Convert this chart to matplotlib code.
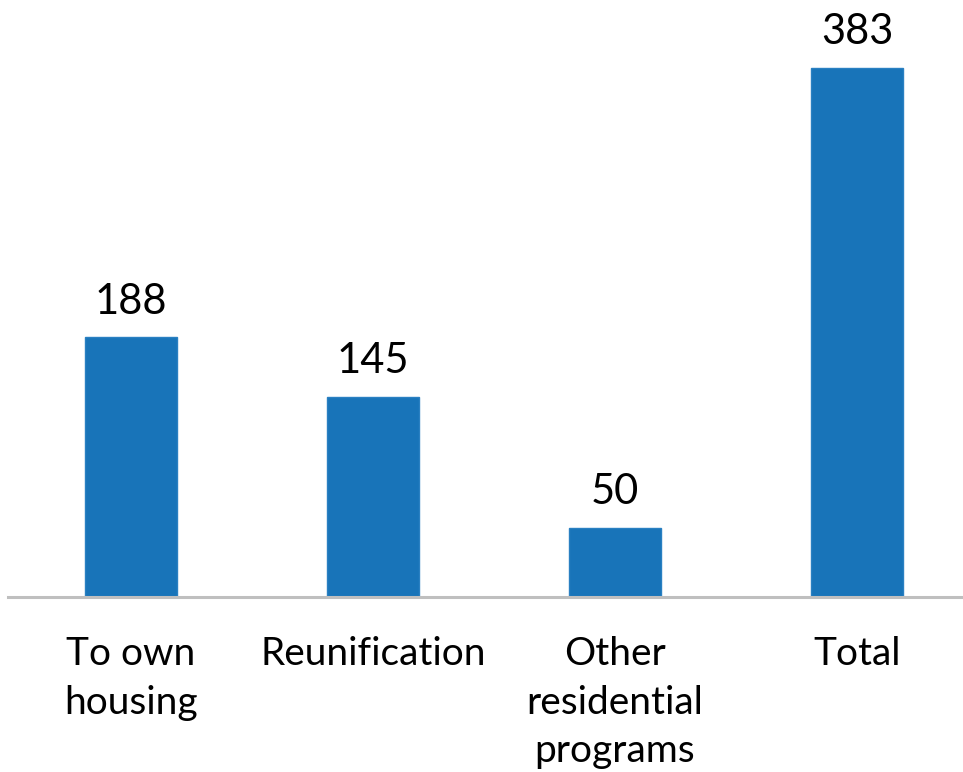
import numpy as np
import matplotlib.pyplot as plt

# data
categories = ['To own\nhousing', 'Reunification', 'Other\nresidential\nprograms', 'Total']
values = [188, 145, 50, 383]

plt.rcParams['font.family'] = ['Lato', 'DejaVu Sans']

fig = plt.figure(figsize=(9.63, 7.72), dpi=100)
ax = fig.add_axes([8 / 963, (772 - 597) / 772, 955 / 963, 597 / 772])

x = np.arange(len(values))
bars = ax.bar(x, values, width=0.38, color='#1874b9', edgecolor='#2a80c2', linewidth=1)

for xi, v in zip(x, values):
    ax.text(xi, v + 12, str(v), ha='center', va='bottom', fontsize=30, color='black')

ax.set_xlim(-0.508, 3.438)
ax.set_ylim(0, 432)
ax.set_xticks(x)
ax.set_xticklabels(categories, fontsize=28, linespacing=1.44)
ax.tick_params(axis='x', length=0, pad=28)
ax.set_yticks([])

for s in ['top', 'right', 'left']:
    ax.spines[s].set_visible(False)
ax.spines['bottom'].set_color('#bfbfbf')
ax.spines['bottom'].set_linewidth(2.2)

fig.savefig('out.png', dpi=100)
